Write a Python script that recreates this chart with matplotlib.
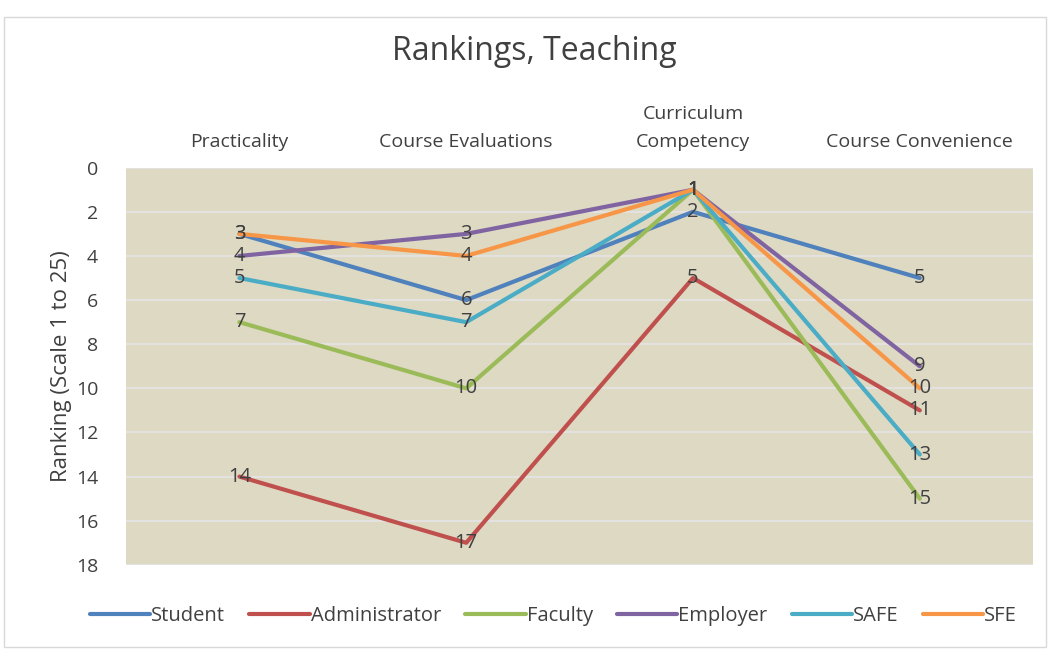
import matplotlib.pyplot as plt

plt.rcParams['font.family'] = ['Open Sans', 'DejaVu Sans']

categories = ["Practicality", "Course Evaluations", "Curriculum\nCompetency", "Course Convenience"]
series_names = ["Student", "Administrator", "Faculty", "Employer", "SAFE", "SFE"]
student = [3, 6, 2, 5]
administrator = [14, 17, 5, 11]
faculty = [7, 10, 1, 15]
employer = [4, 3, 1, 9]
safe = [5, 7, 1, 13]
sfe = [3, 4, 1, 10]
colors = ["#4F81BD", "#C0504D", "#9BBB59", "#8064A2", "#4BACC6", "#F79646"]

series = [student, administrator, faculty, employer, safe, sfe]

fig = plt.figure(figsize=(10.5, 6.5), dpi=100)
ax = fig.add_axes([0.12, 0.131, 0.864, 0.611])
ax.set_facecolor("#DDD9C3")

x = list(range(len(categories)))
for name, vals, c in zip(series_names, series, colors):
    ax.plot(x, vals, color=c, lw=3, label=name, solid_capstyle="round")
    for xi, v in zip(x, vals):
        ax.text(xi, v, str(v), ha="center", va="center", fontsize=14.5, color="#404040")

ax.set_xlim(-0.5, 3.5)
ax.set_ylim(18, 0)
ax.set_yticks(range(0, 19, 2))
ax.grid(axis="y", color="#E4E4E4", lw=1.3)
ax.set_axisbelow(True)
for s in ax.spines.values():
    s.set_visible(False)

ax.xaxis.tick_top()
ax.set_xticks(x)
ax.set_xticklabels(categories, fontsize=14, color="#404040", linespacing=1.75)
ax.tick_params(axis="x", length=0, pad=12)
ax.tick_params(axis="y", length=0, pad=20, labelsize=14, labelcolor="#404040")

ax.set_ylabel("Ranking (Scale 1 to 25)", fontsize=16, color="#404040", labelpad=3)

fig.text(0.509, 0.92, "Rankings, Teaching", ha="center", va="center", fontsize=23, color="#404040")

fig.legend(loc="center", bbox_to_anchor=(0.527, 0.052), ncol=6, frameon=False,
           fontsize=14.5, handlelength=3.0, handletextpad=0.05, columnspacing=1.2,
           labelcolor="#404040")

fig.patches.append(plt.Rectangle((0.004, 0.004), 0.992, 0.97, transform=fig.transFigure,
                                 fill=False, edgecolor="#D9D9D9", lw=1))

fig.savefig("out.png", dpi=100)
